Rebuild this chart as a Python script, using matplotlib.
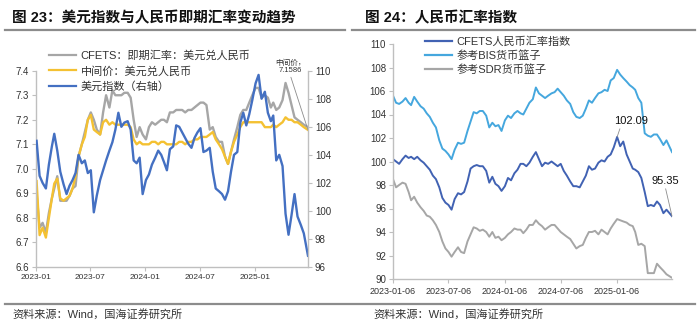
import pandas as pd
import matplotlib
matplotlib.use("Agg")
import matplotlib.pyplot as plt
import matplotlib.dates as mdates
from matplotlib.lines import Line2D

plt.rcParams['font.family'] = ['Liberation Sans', 'Noto Sans CJK SC', 'DejaVu Sans']
plt.rcParams['axes.unicode_minus'] = False

W, H = 700, 328

# ---------- left chart: USD index vs CNY (sampled on days 3/13/23 each month) ----------
spot_cny = [  # CFETS 即期汇率
    6.90, 6.76, 6.78,  6.74, 6.82, 6.88,  6.92, 6.97, 6.87,  6.87, 6.87, 6.89,
    6.92, 6.93, 7.05,  7.10, 7.15, 7.20,  7.23, 7.20, 7.16,  7.14, 7.23, 7.30,
    7.25, 7.32, 7.30,  7.30, 7.30, 7.31,  7.31, 7.29, 7.20,  7.13, 7.17, 7.14,
    7.12, 7.17, 7.19,  7.18, 7.19, 7.20,  7.20, 7.19, 7.23,  7.23, 7.24, 7.24,
    7.24, 7.23, 7.24,  7.24, 7.25, 7.26,  7.27, 7.27, 7.26,  7.16, 7.17, 7.13,
    7.11, 7.11, 7.05,  7.02, 7.07, 7.12,  7.17, 7.22, 7.24,  7.24, 7.27, 7.30,
    7.33, 7.33, 7.29,  7.30, 7.29, 7.25,  7.27, 7.24, 7.25,  7.28, 7.35, 7.31,
    7.26, 7.21, 7.20,  7.19, 7.18, 7.17,
]
mid_cny = [  # 中间价
    6.95, 6.73, 6.76,  6.72, 6.80, 6.88,  6.94, 6.96, 6.88,  6.87, 6.88, 6.89,
    6.92, 6.97, 7.05,  7.10, 7.13, 7.20,  7.22, 7.16, 7.15,  7.14, 7.19, 7.20,
    7.18, 7.19, 7.18,  7.18, 7.18, 7.18,  7.18, 7.17, 7.12,  7.10, 7.11, 7.10,
    7.10, 7.10, 7.11,  7.11, 7.10, 7.11,  7.11, 7.10, 7.10,  7.10, 7.10, 7.11,
    7.11, 7.10, 7.11,  7.11, 7.12, 7.12,  7.13, 7.13, 7.13,  7.14, 7.15, 7.12,
    7.10, 7.08, 7.05,  7.02, 7.07, 7.11,  7.14, 7.17, 7.19,  7.19, 7.19, 7.19,
    7.19, 7.19, 7.19,  7.17, 7.17, 7.17,  7.18, 7.17, 7.18,  7.19, 7.21, 7.20,
    7.20, 7.19, 7.19,  7.18, 7.17, 7.1586,
]
usd_index = [  # 美元指数（右轴）
    105.0, 102.5, 102.0,  101.6, 103.3, 104.6,  105.5, 104.3, 102.8,  101.9, 101.2, 101.8,
    102.2, 102.7, 104.0,  103.4, 103.6, 102.7,  102.9, 99.9, 101.1,  102.2, 102.9, 103.6,
    104.3, 104.9, 105.8,  107.0, 106.0, 106.3,  106.4, 105.8, 103.6,  103.4, 103.8, 101.2,
    102.2, 102.6, 103.3,  103.8, 104.3, 104.0,  103.5, 102.9, 104.4,  104.6, 106.1, 106.0,
    105.6, 105.2, 104.8,  104.5, 105.2, 105.6,  105.9, 104.2, 104.3,  104.5, 102.8, 101.6,
    101.4, 101.2, 100.8,  101.4, 102.8, 104.0,  104.2, 106.3, 107.0,  106.1, 106.9, 107.9,
    109.1, 109.7, 108.0,  108.5, 107.0, 106.4,  106.8, 103.6, 104.0,  103.2, 99.8, 98.3,
    99.7, 101.2, 99.6,  99.0, 98.4, 96.8,
]

# ---------- right chart: RMB indices (sampled on days 6/16/26 each month) ----------
cfets_idx = [
    100.2, 100.0, 99.8,  100.2, 100.5, 100.3,  100.4, 100.2, 100.4,  100.1, 99.9, 99.6,
    99.3, 98.8, 98.5,  97.8, 96.9, 96.5,  96.3, 95.9, 96.8,  97.3, 97.2, 97.4,
    98.3, 99.4, 99.6,  99.7, 99.6, 99.6,  99.2, 98.2, 98.7,  98.1, 97.9, 97.5,
    97.9, 98.6, 98.4,  99.0, 99.3, 99.8,  99.8, 99.6, 99.9,  100.4, 100.8, 100.2,
    99.6, 99.9, 99.8,  100.0, 99.8, 99.6,  99.8, 99.2, 98.8,  98.3, 97.9, 97.9,
    97.8, 98.3, 98.8,  99.6, 99.3, 99.4,  99.9, 100.1, 100.0,  100.4, 100.6, 101.2,
    102.09, 101.3, 101.7,  100.6, 100.0, 99.4,  99.3, 99.1, 98.6,  97.4, 96.2, 96.3,
    96.2, 96.6, 96.3,  95.6, 95.9, 95.35,
]
bis_idx = [
    105.6, 105.0, 104.9,  105.1, 105.4, 105.0,  104.8, 105.5, 105.1,  104.7, 104.5, 104.1,
    103.8, 103.3, 102.9,  101.8, 101.1, 100.9,  100.6, 100.2, 101.0,  101.6, 101.5, 101.6,
    102.6, 103.4, 104.2,  104.1, 104.3, 104.3,  103.9, 102.9, 103.3,  103.0, 103.1, 102.6,
    103.5, 103.9, 103.7,  104.1, 104.3, 104.1,  104.0, 104.5, 105.0,  105.3, 106.3, 105.8,
    105.6, 105.4, 105.6,  105.8, 105.9, 106.2,  105.9, 105.6, 105.2,  104.9, 104.2, 103.8,
    103.7, 103.9, 104.5,  105.2, 105.0, 105.4,  105.8, 105.9, 106.1,  106.0, 106.9, 107.1,
    107.8, 107.4, 107.1,  106.8, 106.5, 106.3,  106.1, 105.4, 105.0,  102.4, 102.2, 102.1,
    102.3, 102.3, 101.9,  101.4, 101.8, 100.8,
]
sdr_idx = [
    98.5, 97.8, 98.0,  98.2, 98.1, 97.4,  96.7, 97.0, 96.5,  96.1, 95.8, 95.4,
    95.3, 95.0, 94.6,  94.0, 93.2, 92.6,  92.3, 91.9, 92.3,  92.7, 92.3, 92.2,
    93.2, 93.8, 94.4,  94.3, 94.1, 94.2,  94.0, 93.6, 94.0,  93.5, 93.6, 93.3,
    93.5, 93.8, 94.0,  94.3, 94.2, 94.2,  93.9, 94.2, 94.6,  94.6, 95.0, 94.7,
    94.5, 94.2, 94.4,  94.6, 94.6, 94.3,  94.0, 93.8, 93.6,  93.4, 93.0, 92.6,
    92.8, 92.9, 93.5,  94.0, 94.0, 94.1,  93.8, 94.2, 94.0,  93.8, 94.3, 94.7,
    95.1, 95.0, 94.9,  94.8, 94.6, 94.5,  94.0, 92.9, 93.0,  92.8, 90.5, 90.5,
    90.5, 91.3, 91.0,  90.7, 90.4, 90.1,
]

left_ticks = ["2023-01", "2023-07", "2024-01", "2024-07", "2025-01"]
right_ticks = ["2023-01-06", "2023-07-06", "2024-01-06", "2024-07-06", "2025-01-06"]


def month_dates(days, last):
    out = []
    for y in (2023, 2024, 2025):
        for m in range(1, 13):
            if y == 2025 and m > 6:
                break
            for d in days:
                out.append(pd.Timestamp(y, m, d))
    out[-1] = pd.Timestamp(last)
    return mdates.date2num(out)


left_dates = month_dates((3, 13, 23), "2025-06-27")
right_dates = month_dates((6, 16, 26), "2025-07-04")


def fx(px):
    return px / W


def fy(py):
    return 1 - py / H


GRAY = "#A6A6A6"
YELLOW = "#F4C132"
BLUE = "#4470C2"
CF_BLUE = "#4162B3"
LT_BLUE = "#45A7DE"
SPINE = "#BFBFBF"
TXT = "#333333"

fig = plt.figure(figsize=(W / 100, H / 100), dpi=100)

# titles and separators
fig.text(fx(12), fy(18), "图 23：美元指数与人民币即期汇率变动趋势", fontsize=10.5,
         fontweight="bold", va="center", ha="left", color="#111111")
fig.text(fx(365), fy(18), "图 24：人民币汇率指数", fontsize=10.5,
         fontweight="bold", va="center", ha="left", color="#111111")
fig.add_artist(Line2D([fx(5), fx(345)], [fy(30), fy(30)], color="#8C8C8C", lw=1.6))
fig.add_artist(Line2D([fx(352), fx(695)], [fy(30), fy(30)], color="#8C8C8C", lw=1.6))
fig.add_artist(Line2D([fx(5), fx(695)], [fy(304), fy(304)], color="#8C8C8C", lw=1.6))
fig.text(fx(12), fy(314), "资料来源：Wind，国海证券研究所", fontsize=8, va="center", color=TXT)
fig.text(fx(373), fy(314), "资料来源：Wind，国海证券研究所", fontsize=8, va="center", color=TXT)


def style_axis(a, sides):
    for s in ("top", "right", "left", "bottom"):
        a.spines[s].set_visible(s in sides)
        a.spines[s].set_color(SPINE)
        a.spines[s].set_linewidth(1.0)
    a.tick_params(colors=SPINE, labelcolor=TXT, length=3, width=0.8)


# ---------- left ----------
ax = fig.add_axes([fx(36), fy(267), fx(308) - fx(36), fy(70.7) - fy(267)])
ax2 = ax.twinx()
ax.plot(left_dates, spot_cny, color=GRAY, lw=1.7)
ax.plot(left_dates, mid_cny, color=YELLOW, lw=1.7)
ax2.plot(left_dates, usd_index, color=BLUE, lw=1.7)
ax.set_ylim(6.6, 7.4)
ax.set_yticks([6.6, 6.7, 6.8, 6.9, 7.0, 7.1, 7.2, 7.3, 7.4])
ax.set_yticklabels(["6.6", "6.7", "6.8", "6.9", "7.0", "7.1", "7.2", "7.3", "7.4"])
ax2.set_ylim(96, 110)
ax2.set_yticks(range(96, 111, 2))
ax.set_xlim(mdates.date2num(pd.Timestamp("2023-01-01")), left_dates[-1])
ax.set_xticks(mdates.date2num([pd.Timestamp(t + "-01") for t in left_ticks]))
ax.set_xticklabels(left_ticks)
style_axis(ax, ("left", "bottom"))
style_axis(ax2, ("right",))
ax.tick_params(axis="y", labelsize=7, pad=2)
ax.tick_params(axis="x", labelsize=6, pad=2)
ax2.tick_params(axis="y", labelsize=7, pad=2)

ax.annotate("中间价，\n7.1586", xy=(left_dates[-1], mid_cny[-1]),
            xytext=(fx(290), fy(67)), textcoords="figure fraction",
            fontsize=5.5, ha="center", va="center", color=TXT, linespacing=1.1,
            arrowprops=dict(arrowstyle="-", color="#8C8C8C", lw=0.6,
                            shrinkA=0, shrinkB=0, relpos=(0.5, 0.0)))

left_handles = [Line2D([], [], color=GRAY, lw=1.6), Line2D([], [], color=YELLOW, lw=1.6),
                Line2D([], [], color=BLUE, lw=1.6)]
fig.legend(left_handles, ["CFETS：即期汇率：美元兑人民币", "中间价：美元兑人民币", "美元指数（右轴）"],
           loc="upper left", bbox_to_anchor=(fx(49), fy(50)), frameon=False,
           fontsize=8, handlelength=2.4, handletextpad=0.45, labelspacing=0.45,
           borderpad=0, borderaxespad=0, labelcolor=TXT)

# ---------- right ----------
bx = fig.add_axes([fx(393), fy(279), fx(672) - fx(393), fy(44) - fy(279)])
bx.plot(right_dates, sdr_idx, color=GRAY, lw=1.4)
bx.plot(right_dates, bis_idx, color=LT_BLUE, lw=1.4)
bx.plot(right_dates, cfets_idx, color=CF_BLUE, lw=1.4)
bx.set_ylim(90, 110)
bx.set_yticks(range(90, 111, 2))
bx.set_xlim(right_dates[0], right_dates[-1])
bx.set_xticks(mdates.date2num([pd.Timestamp(t) for t in right_ticks]))
bx.set_xticklabels(right_ticks)
style_axis(bx, ("left", "bottom"))
bx.tick_params(axis="y", labelsize=7, pad=2)
bx.tick_params(axis="x", labelsize=6.5, pad=3)

i_peak = cfets_idx.index(max(cfets_idx))
bx.annotate(f"{cfets_idx[i_peak]:.2f}", xy=(right_dates[i_peak], cfets_idx[i_peak]),
            xytext=(fx(631), fy(121)), textcoords="figure fraction",
            fontsize=8, ha="center", va="center", color="#111111",
            arrowprops=dict(arrowstyle="-", color="#8C8C8C", lw=0.6,
                            shrinkA=0, shrinkB=0, relpos=(0.2, 0.0)))
bx.annotate(f"{cfets_idx[-1]:.2f}", xy=(right_dates[-1], cfets_idx[-1]),
            xytext=(fx(665), fy(181)), textcoords="figure fraction",
            fontsize=8, ha="center", va="center", color="#111111",
            arrowprops=dict(arrowstyle="-", color="#8C8C8C", lw=0.6,
                            shrinkA=0, shrinkB=0, relpos=(0.5, 0.0)))

right_handles = [Line2D([], [], color=CF_BLUE, lw=1.6), Line2D([], [], color=LT_BLUE, lw=1.6),
                 Line2D([], [], color=GRAY, lw=1.6)]
fig.legend(right_handles, ["CFETS人民币汇率指数", "参考BIS货币篮子", "参考SDR货币篮子"],
           loc="upper left", bbox_to_anchor=(fx(425), fy(36)), frameon=False,
           fontsize=8, handlelength=2.4, handletextpad=0.45, labelspacing=0.32,
           borderpad=0, borderaxespad=0, labelcolor=TXT)

fig.savefig("out.png", dpi=100)
